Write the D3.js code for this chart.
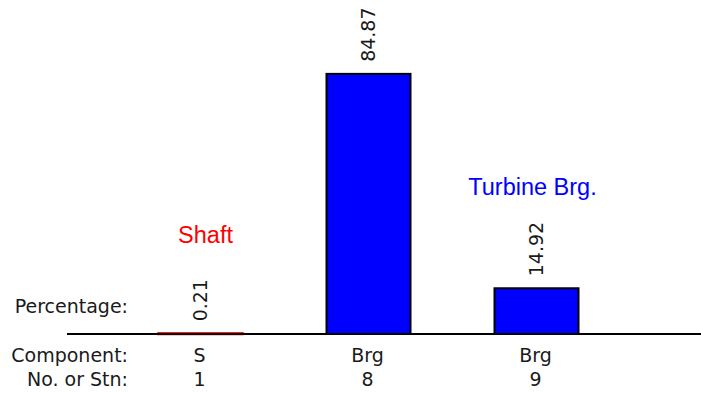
<!DOCTYPE html>
<html>
<head>
<meta charset="utf-8">
<script src="https://cdn.jsdelivr.net/npm/d3@7"></script>
<style>
  html, body { margin: 0; padding: 0; background: #fff; }
  svg { display: block; }
</style>
</head>
<body>
<svg id="chart" width="701" height="393"></svg>
<script>
const stations = ["1", "8", "9"];
const components = ["S", "Brg", "Brg"];
const percentages = [0.21, 84.87, 14.92];
const barColors = ["#ff0000", "#0000ff", "#0000ff"];
const rowLabels = ["Percentage:", "Component:", "No. or Stn:"];
const groupLabels = [
  { text: "Shaft", station: "1", color: "#ff0000" },
  { text: "Turbine Brg.", station: "9", color: "#0000ff" }
];

const svg = d3.select("#chart");
const W = 701, H = 393;
const baseY = 334;

const x = d3.scaleBand().domain(stations).range([74.5, 662.5]).padding(0.5);
const y = d3.scaleLinear().domain([0, 100]).range([baseY, 27.5]);

const smallFont = "'DejaVu Sans', sans-serif";
const smallSize = 19;
const textCol = "#1a1a1a";

// bars
svg.selectAll("rect.bar")
  .data(percentages)
  .join("rect")
  .attr("class", "bar")
  .attr("x", (d, i) => x(stations[i]))
  .attr("width", x.bandwidth())
  .attr("y", d => y(d))
  .attr("height", d => baseY - y(d))
  .attr("fill", (d, i) => barColors[i])
  .attr("stroke", (d, i) => barColors[i] === "#ff0000" ? "#ff0000" : "#000")
  .attr("stroke-width", (d, i) => barColors[i] === "#ff0000" ? 2.5 : 2);

// baseline axis
svg.append("line")
  .attr("x1", 67).attr("x2", W)
  .attr("y1", baseY).attr("y2", baseY)
  .attr("stroke", "#000").attr("stroke-width", 2);

// value labels (rotated)
svg.selectAll("text.val")
  .data(percentages)
  .join("text")
  .attr("class", "val")
  .attr("transform", (d, i) => `translate(${x(stations[i]) + x.bandwidth() / 2 + 6},${y(d) - 12}) rotate(-90)`)
  .attr("text-anchor", "start")
  .attr("font-family", smallFont)
  .attr("font-size", smallSize)
  .attr("fill", textCol)
  .text(d => d.toFixed(2));

// row labels
const rowY = [313, 362, 386];
svg.selectAll("text.row")
  .data(rowLabels)
  .join("text")
  .attr("class", "row")
  .attr("x", 128)
  .attr("y", (d, i) => rowY[i])
  .attr("text-anchor", "end")
  .attr("font-family", smallFont)
  .attr("font-size", smallSize)
  .attr("fill", textCol)
  .text(d => d);

// component labels
svg.selectAll("text.comp")
  .data(components)
  .join("text")
  .attr("class", "comp")
  .attr("x", (d, i) => x(stations[i]) + x.bandwidth() / 2 - 1)
  .attr("y", rowY[1])
  .attr("text-anchor", "middle")
  .attr("font-family", smallFont)
  .attr("font-size", smallSize)
  .attr("fill", textCol)
  .text(d => d);

// station labels
svg.selectAll("text.stn")
  .data(stations)
  .join("text")
  .attr("class", "stn")
  .attr("x", d => x(d) + x.bandwidth() / 2 - 1)
  .attr("y", rowY[2])
  .attr("text-anchor", "middle")
  .attr("font-family", smallFont)
  .attr("font-size", smallSize)
  .attr("fill", textCol)
  .text(d => d);

// group annotations
const annY = [243, 195];
const annDx = [5, -4];
svg.selectAll("text.ann")
  .data(groupLabels)
  .join("text")
  .attr("class", "ann")
  .attr("x", (d, i) => x(d.station) + x.bandwidth() / 2 + annDx[i])
  .attr("y", (d, i) => annY[i])
  .attr("text-anchor", "middle")
  .attr("font-family", "'Liberation Sans', Arial, sans-serif")
  .attr("font-size", 23.5)
  .attr("fill", d => d.color)
  .text(d => d.text);
</script>
</body>
</html>
